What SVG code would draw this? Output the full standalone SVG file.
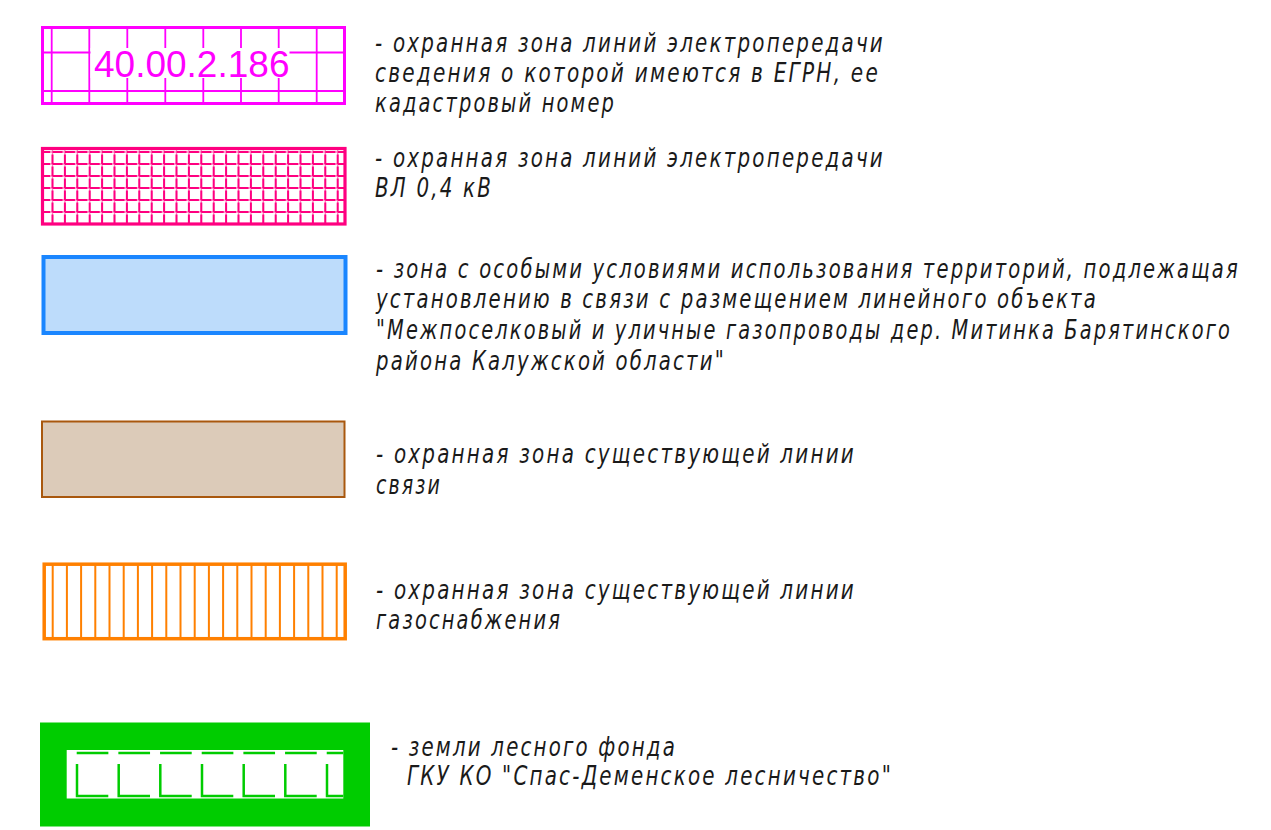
<svg xmlns="http://www.w3.org/2000/svg" width="1271" height="830" viewBox="0 0 1271 830">
<style>
.t{font-family:"DejaVu Sans","Liberation Sans",sans-serif;font-style:italic;font-size:27px;letter-spacing:3px;fill:#1a1a1a}
.mg{stroke:#ff00ff;fill:none}
.pk{stroke:#ff0080;fill:none}
.or{stroke:#ff8000;fill:none}
.gr{stroke:#00cc00;fill:none;stroke-width:2.5}
</style>
<rect width="1271" height="830" fill="#ffffff"/>

<g id="item-egrn">
  <rect x="42.5" y="27.5" width="302" height="76" class="mg" stroke-width="3"/>
  <path class="mg" stroke-width="1.8" d="M42 52.5H344M42 91H344M51.7 27V103M89.3 27V103M127.3 27V103M165.3 27V103M203.3 27V103M241 27V103M278.7 27V103M316.7 27V103"/>
  <rect x="90.5" y="48" width="199" height="30" fill="#ffffff"/>
  <text x="94" y="76.5" font-family="'Liberation Sans',Arial,sans-serif" font-size="37" fill="#ff00ff">40.00.2.186</text>
  <text class="t" x="375" y="52" textLength="510" lengthAdjust="spacingAndGlyphs">- охранная зона линий электропередачи</text>
  <text class="t" x="375" y="82" textLength="505" lengthAdjust="spacingAndGlyphs">сведения о которой имеются в ЕГРН, ее</text>
  <text class="t" x="375" y="112" textLength="241" lengthAdjust="spacingAndGlyphs">кадастровый номер</text>
</g>

<g id="item-vl04">
  <path stroke="#ff7fbf" stroke-width="1.3" fill="none" d="M42 152H344M42 164H344M42 176H344M42 188H344M42 200H344M42 212H344M52.5 149V223M64.9 149V223M77.3 149V223M89.7 149V223M102.1 149V223M114.5 149V223M126.9 149V223M139.3 149V223M151.7 149V223M164.1 149V223M176.5 149V223M188.9 149V223M201.3 149V223M213.7 149V223M226.1 149V223M238.5 149V223M250.9 149V223M263.3 149V223M275.7 149V223M288.1 149V223M300.5 149V223M312.9 149V223M325.3 149V223M337.7 149V223"/>
  <path class="pk" stroke-width="2" stroke-dasharray="10 2.4" stroke-dashoffset="1.9" d="M42 152H344M42 164H344M42 176H344M42 188H344M42 200H344M42 212H344"/>
  <path class="pk" stroke-width="2" stroke-dasharray="9.5 2.5" stroke-dashoffset="9.5" d="M52.5 152V224M64.9 152V224M77.3 152V224M89.7 152V224M102.1 152V224M114.5 152V224M126.9 152V224M139.3 152V224M151.7 152V224M164.1 152V224M176.5 152V224M188.9 152V224M201.3 152V224M213.7 152V224M226.1 152V224M238.5 152V224M250.9 152V224M263.3 152V224M275.7 152V224M288.1 152V224M300.5 152V224M312.9 152V224M325.3 152V224M337.7 152V224"/>
  <rect x="42.5" y="148.5" width="302.5" height="75.5" class="pk" stroke-width="3.2"/>
  <text class="t" x="375" y="167" textLength="510" lengthAdjust="spacingAndGlyphs">- охранная зона линий электропередачи</text>
  <text class="t" x="375" y="197" textLength="118" lengthAdjust="spacingAndGlyphs">ВЛ 0,4 кВ</text>
</g>

<g id="item-zouit">
  <rect x="43.5" y="257" width="302" height="76" fill="#bddcfb" stroke="#1a86ff" stroke-width="4"/>
  <text class="t" transform="translate(376 278) scale(0.725 1)" textLength="1191.7" lengthAdjust="spacingAndGlyphs">- зона с особыми условиями использования территорий, подлежащая</text>
  <text class="t" transform="translate(376 308) scale(0.729 1)" textLength="990.4" lengthAdjust="spacingAndGlyphs">установлению в связи с размещением линейного объекта</text>
  <text class="t" transform="translate(376 339) scale(0.718 1)" textLength="1192.2" lengthAdjust="spacingAndGlyphs">"Межпоселковый и уличные газопроводы дер. Митинка Барятинского</text>
  <text class="t" x="376" y="370" textLength="350" lengthAdjust="spacingAndGlyphs">района Калужской области"</text>
</g>

<g id="item-svyaz">
  <rect x="42" y="421.5" width="302.5" height="75.5" fill="#dccbb9" stroke="#a9580e" stroke-width="2"/>
  <text class="t" x="376" y="463" textLength="480" lengthAdjust="spacingAndGlyphs">- охранная зона существующей линии</text>
  <text class="t" x="376" y="494" textLength="66" lengthAdjust="spacingAndGlyphs">связи</text>
</g>

<g id="item-gaz">
  <path class="or" stroke-width="2" d="M52.7 563V640M66.9 563V640M81.1 563V640M95.3 563V640M109.5 563V640M123.7 563V640M137.9 563V640M152.1 563V640M166.3 563V640M180.5 563V640M194.7 563V640M208.9 563V640M223.1 563V640M237.3 563V640M251.5 563V640M265.7 563V640M279.9 563V640M294.1 563V640M308.3 563V640M322.5 563V640M336.7 563V640"/>
  <rect x="44.2" y="564.2" width="301" height="74.5" class="or" stroke-width="3.5"/>
  <text class="t" x="376" y="599" textLength="480" lengthAdjust="spacingAndGlyphs">- охранная зона существующей линии</text>
  <text class="t" x="376" y="629" textLength="186" lengthAdjust="spacingAndGlyphs">газоснабжения</text>
</g>

<g id="item-les">
  <rect x="40" y="722.5" width="330" height="104" fill="#00cc00"/>
  <rect x="66.7" y="750" width="276.6" height="48.5" fill="#ffffff"/>
  <path class="gr" stroke-dasharray="31.67 10" d="M76.7 753H343.3"/>
  <path class="gr" d="M77 764V796H108.3M118.7 764V796H150M160.3 764V796H191.7M202 764V796H233.3M243.7 764V796H275M285.3 764V796H316.7M327 764V796H343.3"/>
  <text class="t" x="391" y="756" textLength="286" lengthAdjust="spacingAndGlyphs">- земли лесного фонда</text>
  <text class="t" x="407" y="785" textLength="486" lengthAdjust="spacingAndGlyphs">ГКУ КО "Спас-Деменское лесничество"</text>
</g>
</svg>
